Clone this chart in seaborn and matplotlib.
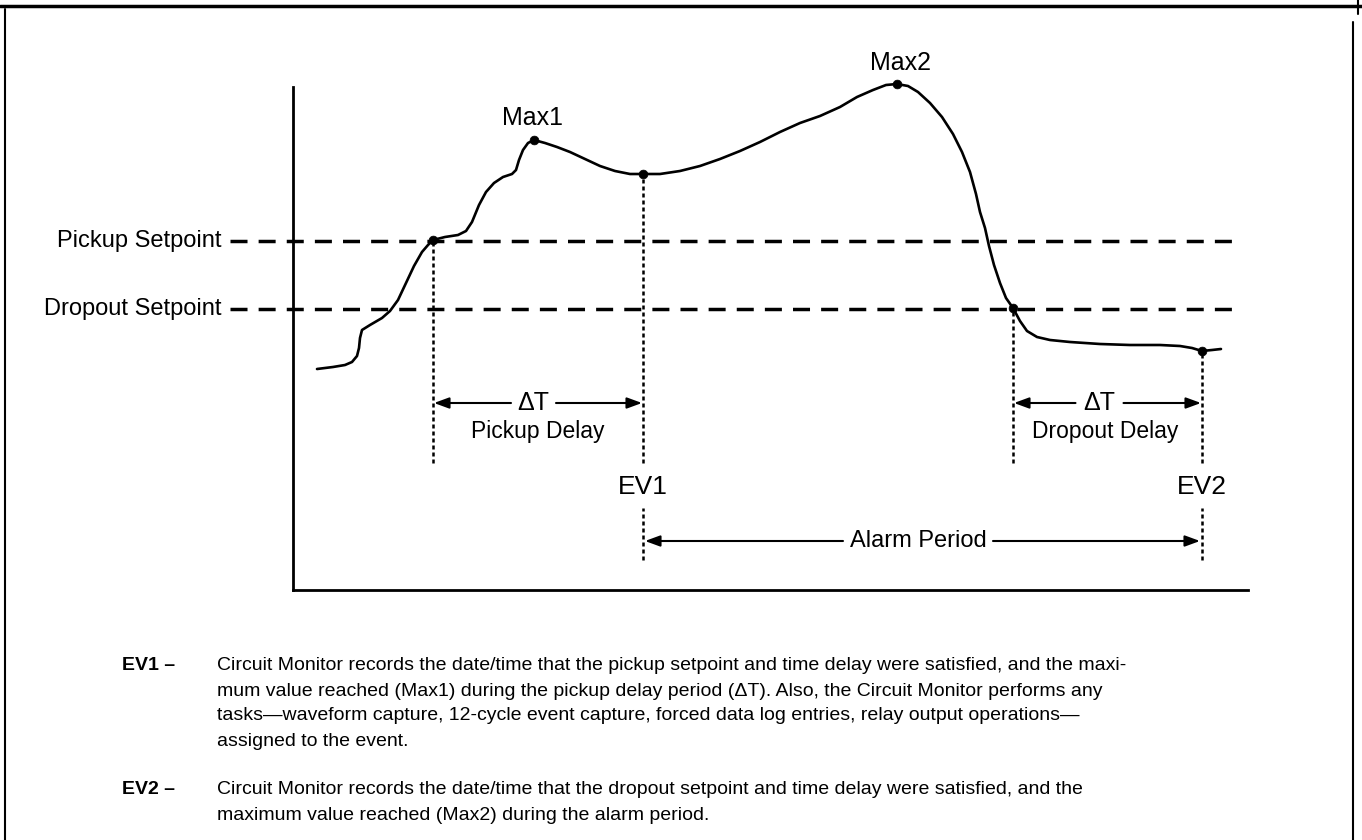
import matplotlib
matplotlib.use("Agg")
import matplotlib.pyplot as plt
import seaborn as sns
import pandas as pd
from matplotlib.lines import Line2D

time = [24, 40, 52, 59, 64, 66, 67, 69, 77, 89, 97, 105, 113, 121, 129, 135, 140,
        152, 165, 173, 179, 186, 193, 201, 210, 219, 223, 226, 230, 235, 241,
        252, 264, 277, 292, 307, 322, 337, 350, 367, 387, 407, 427, 447, 467,
        487, 507, 527, 547, 564, 580, 593, 604, 615, 625, 637, 649, 660, 669,
        677, 683, 687, 692, 696, 701, 707, 713, 720, 727, 734, 744, 757, 777,
        807, 837, 867, 887, 899, 909, 919, 928]
value = [221, 223, 225, 228, 234, 242, 252, 260, 265, 272, 279, 290, 307, 324, 338, 345, 350,
         353, 355, 359, 368, 385, 398, 407, 413, 416, 420, 430, 440, 447, 450,
         447, 443, 438, 431, 424, 419, 416, 416, 416, 419, 424, 431, 439, 448,
         458, 467, 474, 483, 493, 500, 505, 506, 504, 498, 487, 473, 456, 438,
         418, 396, 378, 362, 344, 325, 307, 292, 282, 269, 259, 253, 250, 248,
         246, 245, 245, 244, 242, 239, 240, 241]

# marked events: pickup, Max1, EV1, Max2, dropout, EV2
event_time = [140, 241, 350, 604, 720, 909]
event_value = [350, 450, 416, 506, 282, 239]

pickup_setpoint = 349
dropout_setpoint = 281

df = pd.DataFrame({"time": time, "value": value})
events = pd.DataFrame({"time": event_time, "value": event_value})

sns.set_style("white")
plt.rcParams["font.family"] = ["Liberation Sans", "DejaVu Sans"]
plt.rcParams["text.color"] = "black"

W, H = 1362, 840
fig = plt.figure(figsize=(W / 100, H / 100), dpi=100)
ax = fig.add_axes([0, 0, 1, 1])
ax.set_xlim(-293, W - 293)
ax.set_ylim(-(H - 590), 590)

# axes: only left and bottom lines
for side in ["top", "right"]:
    ax.spines[side].set_visible(False)
for side in ["left", "bottom"]:
    ax.spines[side].set_position(("data", 0))
    ax.spines[side].set_linewidth(2)
    ax.spines[side].set_color("black")
ax.spines["left"].set_bounds(0, 503)
ax.spines["bottom"].set_bounds(0, 955)
ax.set_xticks([])
ax.set_yticks([])

# setpoint lines
dash = (0, (4.9, 3.2))
ax.hlines([pickup_setpoint, dropout_setpoint], -63, 939, colors="black",
          linewidth=2.5, linestyles=[dash, dash])
ax.text(-71, pickup_setpoint, "Pickup Setpoint", ha="right", va="center", fontsize=17)
ax.text(-71, dropout_setpoint, "Dropout Setpoint", ha="right", va="center", fontsize=17)

# the curve and its marked points
sns.lineplot(data=df, x="time", y="value", sort=False, estimator=None,
             color="black", linewidth=1.9, ax=ax)
sns.scatterplot(data=events, x="time", y="value", color="black", s=40,
                edgecolor="black", zorder=5, ax=ax)
ax.set_xlabel("")
ax.set_ylabel("")

# dotted drops from events
dot = (0, (1.6, 1.2))
pk, mx1, ev1, mx2, dp, ev2 = range(6)
for i in [pk, ev1, dp, ev2]:
    ax.vlines(event_time[i], 127, event_value[i], colors="black", linewidth=1.8,
              linestyles=[dot])
for i in [ev1, ev2]:
    ax.vlines(event_time[i], 30, 82, colors="black", linewidth=1.8, linestyles=[dot])

ax.text(event_time[mx1] - 2, event_value[mx1] + 22, "Max1", ha="center", va="center", fontsize=18)
ax.text(event_time[mx2] + 3, event_value[mx2] + 21, "Max2", ha="center", va="center", fontsize=18)
ax.text(event_time[ev1], 103, "EV1", ha="center", va="center", fontsize=19)
ax.text(event_time[ev2], 103, "EV2", ha="center", va="center", fontsize=19)


def arrow(x0, x1, y):
    ax.annotate("", xy=(x1, y), xytext=(x0, y),
                arrowprops=dict(arrowstyle="-|>,head_length=0.6,head_width=0.22",
                                mutation_scale=15, lw=1.5, color="black",
                                shrinkA=0, shrinkB=0))


# pickup delay
mid = (event_time[pk] + event_time[ev1]) / 2
ax.text(mid - 5, 187, "ΔT", ha="center", va="center", fontsize=18)
ax.text(mid, 158, "Pickup Delay", ha="center", va="center", fontsize=16.5)
arrow(mid - 27, event_time[pk] + 1, 187)
arrow(mid + 18, event_time[ev1] - 1, 187)

# dropout delay
mid = (event_time[dp] + event_time[ev2]) / 2
ax.text(mid - 8, 187, "ΔT", ha="center", va="center", fontsize=18)
ax.text(mid - 2, 158, "Dropout Delay", ha="center", va="center", fontsize=16.5)
arrow(mid - 32, event_time[dp] + 1, 187)
arrow(mid + 16, event_time[ev2] - 1, 187)

# alarm period
ax.text(625, 49, "Alarm Period", ha="center", va="center", fontsize=17)
arrow(550, event_time[ev1] + 2, 49)
arrow(700, event_time[ev2] - 2, 49)


# page frame
def fline(x0, y0, x1, y1, lw):
    fig.add_artist(Line2D([x0 / W, x1 / W], [1 - y0 / H, 1 - y1 / H],
                          transform=fig.transFigure, color="black", linewidth=lw))


fline(0, 6, W, 6, 2.5)
fline(5, 9, 5, H, 1.5)
fline(1353, 22, 1353, H, 1.5)
fline(1358, 0, 1358, 14, 1.5)

# notes under the chart
notes = [
    ("EV1 –", 666, [
        "Circuit Monitor records the date/time that the pickup setpoint and time delay were satisfied, and the maxi-",
        "mum value reached (Max1) during the pickup delay period (ΔT). Also, the Circuit Monitor performs any",
        "tasks—waveform capture, 12-cycle event capture, forced data log entries, relay output operations—",
        "assigned to the event.",
    ]),
    ("EV2 –", 790, [
        "Circuit Monitor records the date/time that the dropout setpoint and time delay were satisfied, and the",
        "maximum value reached (Max2) during the alarm period.",
    ]),
]
for tag, y0, lines in notes:
    fig.text(122 / W, 1 - y0 / H, tag, ha="left", va="center", fontsize=14, fontweight="bold")
    for k, line in enumerate(lines):
        fig.text(217 / W, 1 - (y0 + 25 * k) / H, line, ha="left", va="center", fontsize=14)

fig.savefig("out.png", dpi=100, facecolor="white")
